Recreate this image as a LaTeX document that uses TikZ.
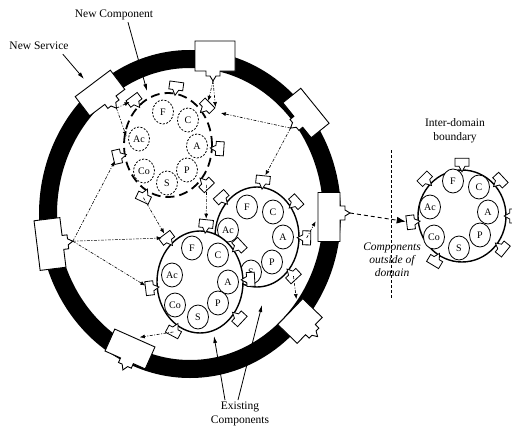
\documentclass[tikz,border=0pt]{standalone}
\usepackage{fontspec}
\setmainfont{Liberation Serif}
\usetikzlibrary{arrows.meta,calc,shapes.geometric}
\tikzset{
 ring/.style={line width=18pt},
 svcsty/.style={draw=black, fill=white, line width=0.9pt, line join=miter},
 plugsty/.style={draw=black, fill=white, line width=0.8pt},
 clus/.style={ellipse, draw=black, fill=white, line width=1.4pt, inner sep=0pt},
 newclus/.style={ellipse, draw=black, line width=1.8pt, dash pattern=on 9pt off 5pt, inner sep=0pt},
 comp/.style={ellipse, draw=black, fill=white, line width=0.8pt, minimum width=21pt, minimum height=24pt, inner sep=0pt, font=\fontsize{10}{10}\selectfont},
 newcomp/.style={comp, dash pattern=on 2pt off 1.5pt},
 link/.style={line width=0.6pt, dash pattern=on 3pt off 1.5pt on 1pt off 1.5pt, -{Latex[length=5pt,width=4pt]}, shorten >=5pt},
 extlink/.style={line width=0.9pt, dash pattern=on 4pt off 3pt, -{Latex[length=9pt,width=7pt]}, shorten >=5pt},
 callout/.style={line width=0.8pt, -{Latex[length=7pt,width=4pt]}},
 lbl/.style={font=\fontsize{11.5}{13.5}\selectfont, align=center, inner sep=0pt},
 bound/.style={line width=0.6pt, dash pattern=on 3pt off 2pt},
}
\newcommand\svcbox[7]{%
 \begin{scope}[shift={(#2,#3)},rotate=#4]
 \draw[svcsty] ({-#5/2},{-#6/2}) -- ({#5/2},{-#6/2}) -- ({#5/2},{#6/2}) -- ({#7+7},{#6/2}) -- ({#7+7},{#6/2+5}) -- ({#7+3},{#6/2+5}) -- ({#7},{#6/2+10}) -- ({#7-3},{#6/2+5}) -- ({#7-7},{#6/2+5}) -- ({#7-7},{#6/2}) -- ({-#5/2},{#6/2}) -- cycle;
 \coordinate (#1) at (0,0);
 \coordinate (#1-t) at ({#7},{#6/2+10});
 \coordinate (#1-b) at (0,{-#6/2});
 \end{scope}}
\newcommand\plugat[3]{%
 \begin{scope}[shift={(#2.#3)},rotate=#3-90]
 \draw[plugsty] (-7,-11) -- (7,-11) -- (7,-3) -- (3,-3) -- (0,2.5) -- (-3,-3) -- (-7,-3) -- cycle;
 \coordinate (#1) at (0,-7);
 \end{scope}}
\begin{document}
\begin{tikzpicture}[x=1pt,y=-1pt]
\useasboundingbox (0,0) rectangle (512,431);
% domain ring
\coordinate (rc) at (190,214);
\draw[ring] (rc) ellipse [x radius=142, y radius=155];
% service boxes on the ring
\svcbox{ns}{100}{93}{37}{44}{24}{4}
\svcbox{tb}{215}{56}{0}{40}{30}{-2}
\svcbox{ur}{306}{113}{-51}{45}{23}{2}
\svcbox{rb}{329}{217}{90}{49}{22}{4}
\svcbox{lr}{300}{321}{46}{36}{27}{1}
\svcbox{ll}{130}{349}{-24}{44}{24}{2}
\svcbox{lb}{50}{244}{97}{50}{26}{0}
% new component (dashed)
\node[newclus, minimum width=88pt, minimum height=104pt] (c1) at (168,145) {};
\node[newcomp] (c1F) at (163,112) {F};
\node[newcomp] (c1C) at (188,120) {C};
\node[newcomp] (c1A) at (197,146) {A};
\node[newcomp] (c1P) at (187,170) {P};
\node[newcomp] (c1S) at (167,183) {S};
\node[newcomp] (c1Co) at (144,171) {Co};
\node[newcomp] (c1Ac) at (139,139) {Ac};
\plugat{p1T}{c1}{82}
\plugat{p1UL}{c1}{127}
\plugat{p1UR}{c1}{45}
\plugat{p1R}{c1}{-4}
\plugat{p1L}{c1}{193}
\plugat{p1LR}{c1}{-46}
\plugat{p1BL}{c1}{245}
% existing component (back)
\node[clus, minimum width=84pt, minimum height=100pt] (c3) at (257,237) {};
\node[comp] (c3F) at (247,207) {F};
\node[comp] (c3C) at (273,212) {C};
\node[comp] (c3A) at (283,237) {A};
\node[comp] (c3P) at (272,262) {P};
\node[comp] (c3S) at (251,272) {S};
\node[comp] (c3Ac) at (228,230) {Ac};
\plugat{p3T}{c3}{84}
\plugat{p3UL}{c3}{132}
\plugat{p3UR}{c3}{42}
\plugat{p3R}{c3}{-1}
\plugat{p3LR}{c3}{-47}
% existing component (front)
\node[clus, minimum width=86pt, minimum height=102pt] (c2) at (200,282) {};
\node[comp] (c2F) at (192,248) {F};
\node[comp] (c2C) at (218,255) {C};
\node[comp] (c2A) at (228,282) {A};
\node[comp] (c2P) at (218,303) {P};
\node[comp] (c2S) at (198,317) {S};
\node[comp] (c2Co) at (175,305) {Co};
\node[comp] (c2Ac) at (172,275) {Ac};
\plugat{p2T}{c2}{84}
\plugat{p2UL}{c2}{127}
\plugat{p2UR}{c2}{43}
\plugat{p2R}{c2}{3}
\plugat{p2L}{c2}{187}
\plugat{p2LL}{c2}{242}
\plugat{p2LR}{c2}{-43}
% component outside the domain
\node[clus, minimum width=88pt, minimum height=92pt] (c4) at (462,216) {};
\node[comp] (c4F) at (453,181) {F};
\node[comp] (c4C) at (479,187) {C};
\node[comp] (c4A) at (488,212) {A};
\node[comp] (c4P) at (480,235) {P};
\node[comp] (c4S) at (459,248) {S};
\node[comp] (c4Co) at (434,237) {Co};
\node[comp] (c4Ac) at (430,207) {Ac};
\plugat{p4T}{c4}{90}
\plugat{p4UL}{c4}{135}
\plugat{p4UR}{c4}{43}
\plugat{p4R}{c4}{0}
\plugat{p4L}{c4}{187}
\plugat{p4LL}{c4}{239}
\plugat{p4LR}{c4}{-39}
% inter-domain boundary
\coordinate (bd1) at (391,150);
\coordinate (bd2) at (391,298);
\draw[bound] (bd1) -- (bd2);
% labels
\node[lbl] (nslbl) at (39,46) {New Service};
\node[lbl] (nclbl) at (114,15) {New Component};
\node[lbl] (idlbl) at (455,131) {Inter-domain\\boundary};
\node[lbl, font=\itshape\fontsize{11.5}{13}\selectfont] (outlbl) at (392,260) {Components\\outside of\\domain};
\node[lbl] (eclbl) at (240,414) {Existing\\Components};
% connectors
\coordinate (jct) at (216,112);
\coordinate (nsdn) at (128,141);
\coordinate (lrin) at (297,304);
\draw[link] (lb-t) -- (p1L);
\draw[link] (lb-t) -- (p2UL);
\draw[link] (lb-t) -- (p2L);
\draw[link] (tb-t) -- (p1UR);
\draw[link] (tb-t) -- (jct);
\draw[link] (ur-t) -- (jct);
\draw[link] (ur-t) -- (p3T);
\draw[link] (p3R) -- (rb-b);
\draw[extlink] (rb-t) -- (p4L);
\draw[link] (p3LR) -- (lrin);
\draw[link] (p2LL) -- (ll-b);
\draw[link] (p1BL) -- (p2UL);
\draw[link] (p1LR) -- (p2T);
\draw[link] (ns-t) -- (p1UL);
\draw[link] (ns-t) -- (nsdn);
% callouts
\coordinate (nsa) at (84,79);
\coordinate (nca) at (147,91);
\coordinate (ea1) at (214,336);
\coordinate (ea2) at (262,305);
\draw[callout] ([shift={(-6pt,-4pt)}]nslbl.south east) -- (nsa);
\draw[callout] ([xshift=14pt,yshift=-2pt]nclbl.south) -- (nca);
\draw[callout] ([xshift=-15pt,yshift=2pt]eclbl.north) -- (ea1);
\draw[callout] ([xshift=-2pt,yshift=2pt]eclbl.north) -- (ea2);
\end{tikzpicture}
\end{document}
